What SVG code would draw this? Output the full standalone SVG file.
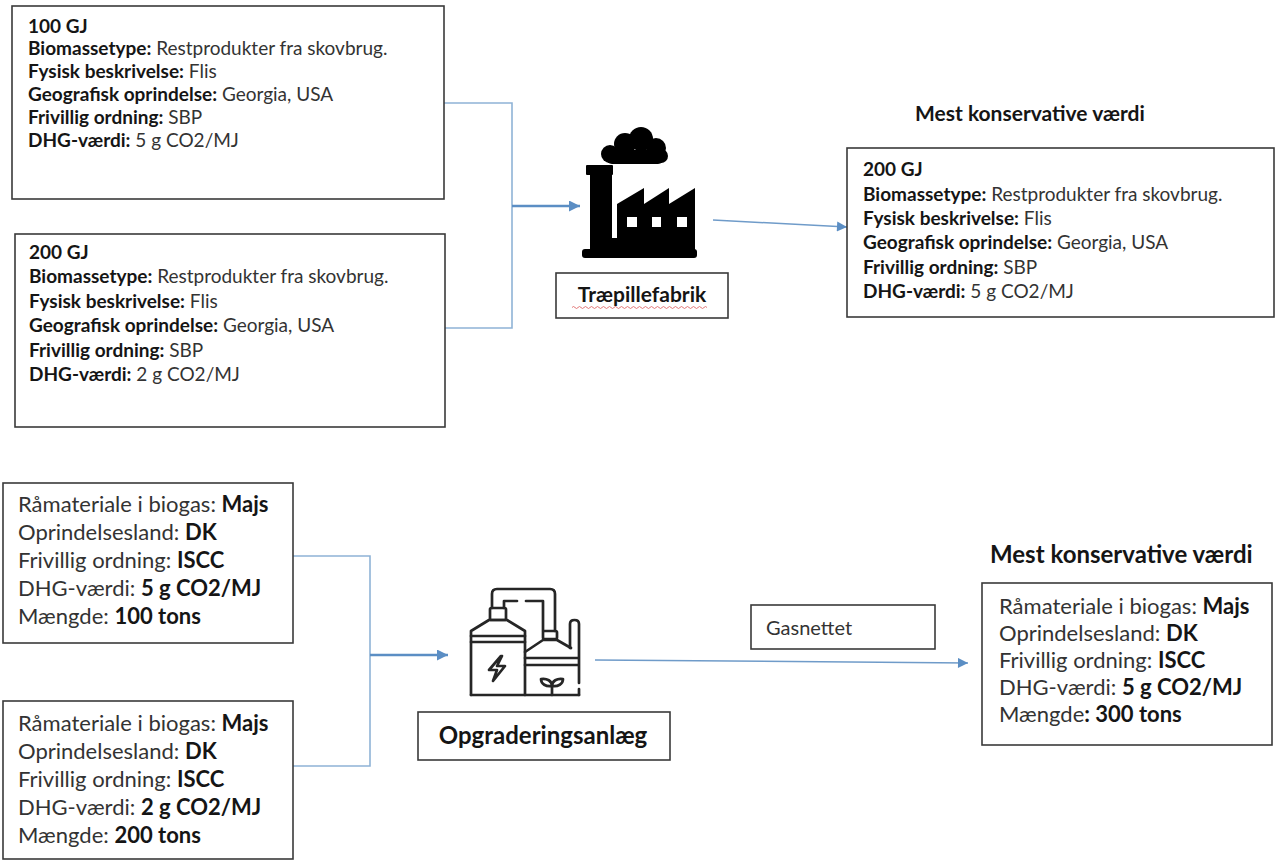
<svg xmlns="http://www.w3.org/2000/svg" width="1277" height="861" viewBox="0 0 1277 861">
<style>
  text { font-family: Lato, "Liberation Sans", sans-serif; fill: #333; }
  .b { font-weight: bold; fill: #151515; }
  .t1 { font-size: 19px; }
  .t2 { font-size: 22px; }
  .box { fill: #fff; stroke: #3a3a3a; stroke-width: 1.6; }
  .thin { fill: none; stroke: #8fb3d6; stroke-width: 1.6; }
  .main { fill: none; stroke: #5b8ec4; stroke-width: 2.6; }
  .out { fill: none; stroke: #6f9bc9; stroke-width: 1.5; }
  .ico { fill: none; stroke: #262626; stroke-width: 2.7; stroke-linecap: round; stroke-linejoin: round; }
</style>
<defs>
  <marker id="ahBig" viewBox="0 0 10 10" refX="10" refY="5" markerWidth="15" markerHeight="11" markerUnits="userSpaceOnUse" orient="auto">
    <path d="M0,0 L10,5 L0,10 z" fill="#5b8ec4"/>
  </marker>
  <marker id="ahSmall" viewBox="0 0 10 10" refX="10" refY="5" markerWidth="13" markerHeight="10" markerUnits="userSpaceOnUse" orient="auto">
    <path d="M0,0 L10,5 L0,10 z" fill="#5b8ec4"/>
  </marker>
</defs>
<rect width="1277" height="861" fill="#fff"/>

<g id="connectors">
  <path class="thin" d="M444 103 H512 V328 H445"/>
  <path class="main" d="M512 206 H580" marker-end="url(#ahBig)"/>
  <path class="out" d="M713 220 L847 227" marker-end="url(#ahSmall)"/>
  <path class="thin" d="M293 556 H370 V766 H293"/>
  <path class="main" d="M370 655 H448" marker-end="url(#ahBig)"/>
  <path class="out" d="M595 660 L968 663" marker-end="url(#ahSmall)"/>
</g>

<g id="box-100gj">
  <rect class="box" x="12" y="6" width="432" height="193"/>
  <text class="t1" x="28" y="33"><tspan class="b">100 GJ</tspan></text>
  <text class="t1" x="28" y="55"><tspan class="b">Biomassetype:</tspan> Restprodukter fra skovbrug.</text>
  <text class="t1" x="28" y="78"><tspan class="b">Fysisk beskrivelse:</tspan> Flis</text>
  <text class="t1" x="28" y="101"><tspan class="b">Geografisk oprindelse:</tspan> Georgia, USA</text>
  <text class="t1" x="28" y="124"><tspan class="b">Frivillig ordning:</tspan> SBP</text>
  <text class="t1" x="28" y="147"><tspan class="b">DHG-værdi:</tspan> 5 g CO2/MJ</text>
</g>

<g id="box-200gj">
  <rect class="box" x="15" y="234" width="430" height="193"/>
  <text class="t1" x="29" y="259"><tspan class="b">200 GJ</tspan></text>
  <text class="t1" x="29" y="283"><tspan class="b">Biomassetype:</tspan> Restprodukter fra skovbrug.</text>
  <text class="t1" x="29" y="308"><tspan class="b">Fysisk beskrivelse:</tspan> Flis</text>
  <text class="t1" x="29" y="332"><tspan class="b">Geografisk oprindelse:</tspan> Georgia, USA</text>
  <text class="t1" x="29" y="357"><tspan class="b">Frivillig ordning:</tspan> SBP</text>
  <text class="t1" x="29" y="381"><tspan class="b">DHG-værdi:</tspan> 2 g CO2/MJ</text>
</g>

<g id="traepillefabrik">
  <g fill="#000">
    <circle cx="610" cy="154" r="9"/>
    <circle cx="625" cy="144" r="11"/>
    <circle cx="641" cy="139" r="12"/>
    <circle cx="656" cy="148" r="10"/>
    <circle cx="661" cy="156" r="7"/>
    <rect x="606" y="150" width="58" height="14" rx="6"/>
    <rect x="586" y="165" width="27" height="10" rx="1"/>
    <path d="M590 174 H612 V238 H617 V204 L644 188 V204 L669 188 V204 L695 188 V252 H590 Z"/>
    <rect x="582" y="249" width="115" height="9" rx="3"/>
  </g>
  <g fill="#fff">
    <rect x="627" y="217" width="10" height="10"/>
    <rect x="652" y="217" width="9" height="10"/>
    <rect x="677" y="217" width="10" height="10"/>
  </g>
  <rect class="box" x="556" y="273" width="172" height="45"/>
  <text class="b" x="642" y="302" font-size="21" text-anchor="middle">Træpillefabrik</text>
  <path d="M572 307.5 q1.5 -2 3 0 t3 0 t3 0 t3 0 t3 0 t3 0 t3 0 t3 0 t3 0 t3 0 t3 0 t3 0 t3 0 t3 0 t3 0 t3 0 t3 0 t3 0 t3 0 t3 0 t3 0 t3 0 t3 0 t3 0 t3 0 t3 0 t3 0 t3 0 t3 0 t3 0 t3 0 t3 0 t3 0 t3 0 t3 0 t3 0 t3 0 t3 0 t3 0 t3 0 t3 0 t3 0 t3 0 t3 0 t3 0" fill="none" stroke="#e06a6a" stroke-width="0.9"/>
</g>

<text class="b" x="915" y="121" font-size="21">Mest konservative værdi</text>

<g id="box-result-top">
  <rect class="box" x="847" y="148" width="427" height="169"/>
  <text class="t1" x="863" y="176"><tspan class="b">200 GJ</tspan></text>
  <text class="t1" x="863" y="201"><tspan class="b">Biomassetype:</tspan> Restprodukter fra skovbrug.</text>
  <text class="t1" x="863" y="225"><tspan class="b">Fysisk beskrivelse:</tspan> Flis</text>
  <text class="t1" x="863" y="249"><tspan class="b">Geografisk oprindelse:</tspan> Georgia, USA</text>
  <text class="t1" x="863" y="274"><tspan class="b">Frivillig ordning:</tspan> SBP</text>
  <text class="t1" x="863" y="298"><tspan class="b">DHG-værdi:</tspan> 5 g CO2/MJ</text>
</g>

<g id="box-100tons">
  <rect class="box" x="3" y="483" width="290" height="160"/>
  <text class="t2" x="18" y="512">Råmateriale i biogas: <tspan class="b">Majs</tspan></text>
  <text class="t2" x="18" y="540">Oprindelsesland: <tspan class="b">DK</tspan></text>
  <text class="t2" x="18" y="568">Frivillig ordning: <tspan class="b">ISCC</tspan></text>
  <text class="t2" x="18" y="596">DHG-værdi: <tspan class="b">5 g CO2/MJ</tspan></text>
  <text class="t2" x="18" y="624">Mængde: <tspan class="b">100 tons</tspan></text>
</g>

<g id="box-200tons">
  <rect class="box" x="3" y="701" width="290" height="158"/>
  <text class="t2" x="18" y="731">Råmateriale i biogas: <tspan class="b">Majs</tspan></text>
  <text class="t2" x="18" y="759">Oprindelsesland: <tspan class="b">DK</tspan></text>
  <text class="t2" x="18" y="787">Frivillig ordning: <tspan class="b">ISCC</tspan></text>
  <text class="t2" x="18" y="815">DHG-værdi: <tspan class="b">2 g CO2/MJ</tspan></text>
  <text class="t2" x="18" y="843">Mængde: <tspan class="b">200 tons</tspan></text>
</g>

<g id="opgraderingsanlaeg">
  <path class="ico" d="M471 695 V631 L489 620 H507 L525 631 V695"/>
  <path class="ico" d="M471 636 H525 M471 642 H525"/>
  <rect class="ico" x="490" y="608" width="16" height="12" rx="1.5"/>
  <path class="ico" d="M492 608 V594 Q492 589 497 589 H550 Q555 589 555 594 V631"/>
  <path class="ico" d="M504 608 V601 H517 M526 601 H543 V631"/>
  <rect class="ico" x="543" y="631" width="14" height="8" rx="1.5"/>
  <path class="ico" d="M525 652 L543 640 H557 L571 648"/>
  <path class="ico" d="M525 658 H578 M525 665 H578"/>
  <path class="ico" d="M570 648 V624 Q570 620 574.5 620 Q579 620 579 624 V683 M579 689 V695"/>
  <path class="ico" d="M471 695 H579"/>
  <path class="ico" d="M501 656 L489 670 H497 L493 681 L505 666 H497 L502 656 Z" stroke-width="2.3"/>
  <path class="ico" d="M552 695 V686 M552 686 C546 687 541 684 541 679 C547 678 552 681 552 686 Z M552 686 C558 687 563 684 563 679 C557 678 552 681 552 686 Z" stroke-width="2.3"/>
  <rect class="box" x="418" y="712" width="252" height="48"/>
  <text class="b" x="543" y="744" font-size="24" text-anchor="middle">Opgraderingsanlæg</text>
</g>

<g id="gasnettet">
  <rect class="box" x="751" y="605" width="184" height="44"/>
  <text x="766" y="635" font-size="20">Gasnettet</text>
</g>

<text class="b" x="990" y="563" font-size="24">Mest konservative værdi</text>

<g id="box-result-bottom">
  <rect class="box" x="982" y="583" width="290" height="162"/>
  <text class="t2" x="999" y="614">Råmateriale i biogas: <tspan class="b">Majs</tspan></text>
  <text class="t2" x="999" y="641">Oprindelsesland: <tspan class="b">DK</tspan></text>
  <text class="t2" x="999" y="668">Frivillig ordning: <tspan class="b">ISCC</tspan></text>
  <text class="t2" x="999" y="695">DHG-værdi: <tspan class="b">5 g CO2/MJ</tspan></text>
  <text class="t2" x="999" y="722">Mængde<tspan class="b">: 300 tons</tspan></text>
</g>
</svg>
